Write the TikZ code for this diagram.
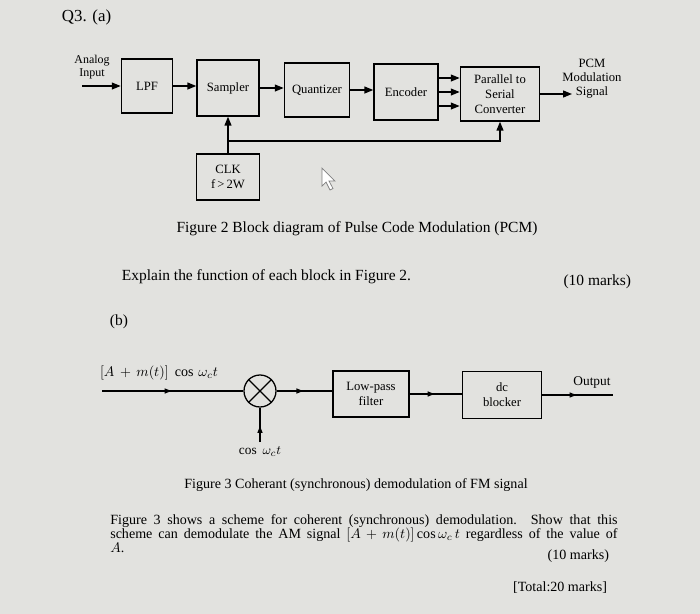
\documentclass[tikz,border=0pt]{standalone}
\usepackage{fontspec}
\setmainfont{Liberation Serif}
\usetikzlibrary{arrows.meta, shapes, positioning, decorations.markings}
\definecolor{paper}{RGB}{226,226,223}

\begin{document}
\begin{tikzpicture}[x=0.025cm, y=-0.025cm,
  block/.style={draw, line width=1pt, align=center, inner sep=1pt, font=\fontsize{9}{10.5}\selectfont},
  sig/.style={-{Triangle[length=2.2mm, width=1.7mm]}, line width=1pt},
  flow/.style={line width=0.8pt, postaction={decorate},
    decoration={markings, mark=at position 0.5 with {\arrow{Latex[length=2mm, width=1.4mm]}}}},
  txt/.style={font=\fontsize{11}{13}\selectfont},
  txtb/.style={font=\fontsize{10}{12}\selectfont}]

  % Paper
  \fill[paper] (0,0) rectangle (700,614);

  % Part (a)
  \node[font=\fontsize{12}{14}\selectfont, anchor=west] (qa) at (57,17) {Q3. (a)};
  \node[align=center, font=\fontsize{8.5}{9.5}\selectfont] (ain) at (92,67) {Analog\\Input};
  \coordinate (in) at (82,86);

  % Blocks
  \node[block, minimum width=1.28cm, minimum height=1.35cm] (lpf) at (147,86) {LPF};
  \node[block, minimum width=1.55cm, minimum height=1.4cm] (sampler) at (228,88) {Sampler};
  \node[block, minimum width=1.63cm, minimum height=1.35cm] (quant) at (317,90) {Quantizer};
  \node[block, minimum width=1.6cm, minimum height=1.4cm] (enc) at (406,92) {Encoder};
  \node[block, minimum width=1.98cm, minimum height=1.35cm] (ps) at (500,94) {Parallel to\\Serial\\Converter};
  \node[block, minimum width=1.58cm, minimum height=1.15cm] (clk) at (228,177) {CLK\\f\,>\,2W};

  % Signal path
  \draw[sig] (in) -- (lpf.west |- in);
  \draw[sig] (lpf.east) -- (lpf.east -| sampler.west);
  \draw[sig] (sampler.east) -- (sampler.east -| quant.west);
  \draw[sig] (quant.east) -- (quant.east -| enc.west);
  \foreach \dy in {-0.35,0,0.35}
    \draw[sig] ([yshift=\dy cm]enc.east) -- ([yshift=\dy cm]enc.east -| ps.west);
  \coordinate (out) at (572,94);
  \draw[sig] (ps.east) -- (out);
  \node[align=center, font=\fontsize{9}{10}\selectfont] (pcm) at (592,79) {PCM\\Modulation\\Signal};

  % Clock
  \coordinate (tap) at (228,141);
  \draw[sig] (clk.north) -- (sampler.south);
  \draw[sig] (tap) -| (ps.south);

  % Cursor
  \draw[gray, fill=white, line width=0.5pt] (322,168) -- ++(0,18) -- ++(4,-4) -- ++(4,8) -- ++(3,-1.5) -- ++(-4,-7.5) -- ++(6,0) -- cycle;

  \node[txt] (cap2) at (357,229) {Figure 2 Block diagram of Pulse Code Modulation (PCM)};
  \node[txt, anchor=west] (ask) at (117,277) {Explain the function of each block in Figure 2.};
  \node[txt, anchor=east] (marka) at (636,282) {(10 marks)};

  % Part (b)
  \node[txt, anchor=west] (qb) at (105,322) {(b)};
  \coordinate (bin) at (102,391);
  \node[circle, draw, line width=0.9pt, minimum size=0.8cm] (mix) at (260,391) {};
  \draw[line width=0.9pt] (mix.north west) -- (mix.south east) (mix.north east) -- (mix.south west);
  \node[font=\fontsize{10}{11}\selectfont] (am) at (159,373) {$[A\,+\,m(t)]\;\cos\,\omega_c t$};
  \coordinate (lo) at (260,442);
  \node[font=\fontsize{9.5}{10}\selectfont, below] (cos) at (lo) {$\cos\;\omega_c t$};

  \node[block, line width=0.9pt, minimum width=1.9cm, minimum height=1.15cm] (lp) at (371,394) {Low-pass\\filter};
  \node[block, line width=0.9pt, minimum width=1.98cm, minimum height=1.18cm] (dc) at (502,395) {dc\\blocker};
  \coordinate (bout) at (613,395);

  \draw[flow] (bin) -- (mix.west);
  \draw[flow] (lo) -- (mix.south);
  \draw[flow] (mix.east) -- (mix.east -| lp.west);
  \draw[flow] (lp.east) -- (lp.east -| dc.west);
  \draw[flow] (dc.east) -- (bout);
  \node[font=\fontsize{9.5}{10}\selectfont] (outl) at (592,382) {Output};

  \node[txtb] (cap3) at (356,485) {Figure 3 Coherant (synchronous) demodulation of FM signal};
  \node[anchor=north west, text width=12.68cm, align=justify, inner sep=0pt, font=\fontsize{10}{10.2}\selectfont] (para) at (110,514)
    {Figure 3 shows a scheme for coherent (synchronous) demodulation. Show that this\linebreak
     scheme can demodulate the AM signal $[A+m(t)]\cos\omega_c\,t$ regardless of the value of\linebreak
     $A$.};
  \node[txtb, anchor=east] (markb) at (614,556) {(10 marks)};
  \node[txtb, anchor=east] (total) at (612,588) {[Total:20 marks]};

\end{tikzpicture}
\end{document}
